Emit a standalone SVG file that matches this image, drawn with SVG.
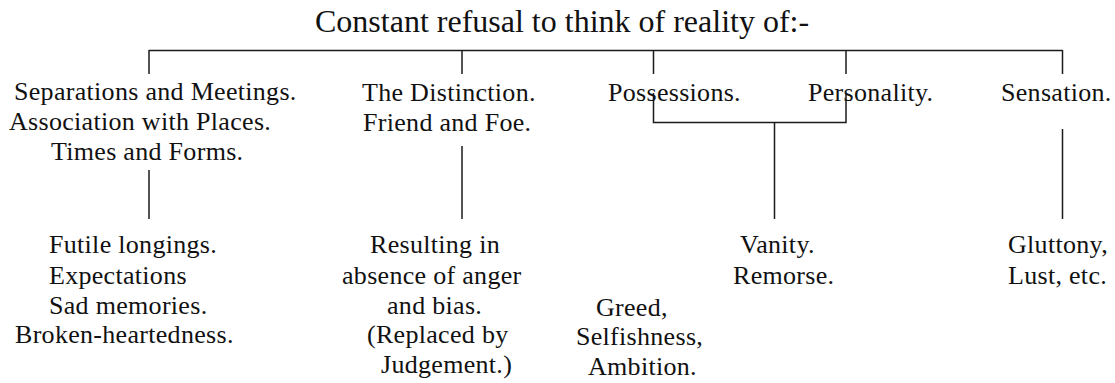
<svg xmlns="http://www.w3.org/2000/svg" width="1115" height="383" viewBox="0 0 1115 383">
<style>
text{font-family:"Liberation Serif","Times New Roman",serif;font-size:26px;fill:#111;letter-spacing:0.3px;}
.title{font-size:32px;letter-spacing:0;}
.conn path{fill:none;stroke:#1a1a1a;stroke-width:1.5;}
</style>
<rect width="1115" height="383" fill="#fff"/>
<g id="connectors" class="conn">
<path d="M149 50.5H1062.5"/>
<path d="M149 50V74"/>
<path d="M462 50V74"/>
<path d="M653.5 50V74"/>
<path d="M846 50V74"/>
<path d="M1062.5 50V74"/>
<path d="M149 170V219"/>
<path d="M462 146V219"/>
<path d="M653.5 93V122.5H846V93"/>
<path d="M774.5 122.5V219"/>
<path d="M1062.5 129V219"/>
</g>
<g id="title"><text class="title" x="315" y="32">Constant refusal to think of reality of:-</text></g>
<g id="node-separations">
<text x="14" y="100">Separations and Meetings.</text>
<text x="9" y="130">Association with Places.</text>
<text x="51" y="160">Times and Forms.</text>
</g>
<g id="node-distinction">
<text x="362" y="101">The Distinction.</text>
<text x="363" y="131">Friend and Foe.</text>
</g>
<g id="node-possessions"><text x="608" y="101">Possessions.</text></g>
<g id="node-personality"><text x="808" y="101">Personality.</text></g>
<g id="node-sensation"><text x="1001" y="101">Sensation.</text></g>
<g id="node-futile">
<text x="49" y="253">Futile longings.</text>
<text x="49" y="284">Expectations</text>
<text x="49" y="314">Sad memories.</text>
<text x="15" y="343">Broken-heartedness.</text>
</g>
<g id="node-resulting">
<text x="370" y="253">Resulting in</text>
<text x="342" y="284">absence of anger</text>
<text x="387" y="314">and bias.</text>
<text x="367" y="343">(Replaced by</text>
<text x="381" y="373">Judgement.)</text>
</g>
<g id="node-vanity">
<text x="740" y="253">Vanity.</text>
<text x="733" y="284">Remorse.</text>
</g>
<g id="node-greed">
<text x="596" y="316">Greed,</text>
<text x="576" y="345">Selfishness,</text>
<text x="588" y="375">Ambition.</text>
</g>
<g id="node-gluttony">
<text x="1008" y="253">Gluttony,</text>
<text x="1008" y="284">Lust, etc.</text>
</g>
</svg>
